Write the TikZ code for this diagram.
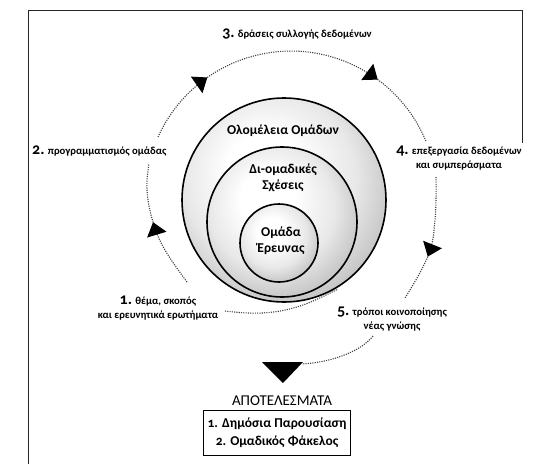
\documentclass[tikz,border=0pt]{standalone}
\usepackage{fontspec}
\setmainfont{Carlito}[Numbers=OldStyle]
\usetikzlibrary{arrows.meta,decorations.markings}
\pgfdeclareradialshading{discshade}{\pgfpoint{-6bp}{9bp}}{color(0bp)=(white); color(9bp)=(white); color(21bp)=(black!9); color(29bp)=(black!22); color(35bp)=(black!42); color(50bp)=(black!45)}
\newcommand\bignum[1]{{\fontsize{16}{14}\selectfont #1}}
\tikzset{
  disc/.style={circle, draw=black, line width=1.6pt, shading=discshade, inner sep=0pt},
  intext/.style={font=\bfseries\fontsize{13.5}{16}\selectfont, align=center, inner sep=1pt},
  lab/.style={font=\bfseries\fontsize{10.7}{14.5}\selectfont, align=center, inner sep=1pt},
  dotline/.style={draw=black!75, line width=1.1pt, dash pattern=on 1.1pt off 1.2pt},
  headmark/.style={postaction={decorate, decoration={markings, mark=at position #1 with {\arrow[black]{Triangle[width=20pt,length=13pt]}}}}}
}
\begin{document}
\begin{tikzpicture}[x=1pt, y=-1pt]
\useasboundingbox (0,0) rectangle (539,464);
\fill[white] (0,0) rectangle (539,464);
% frame
\draw[line width=1pt, black!85] (28,464) -- (28,10) -- (522,10) -- (522,143);
% nested circles
\node[disc, minimum size=204pt] (outer) at (284,200) {};
\node[disc, minimum size=150pt] (middle) at (282,222) {};
\node[disc, minimum size=78pt] (inner) at (279,243) {};
\node[intext] (t1) at (283,131) {Ολομέλεια Ομάδων};
\node[intext] (t2) at (283,178) {Δι-ομαδικές\\Σχέσεις};
\node[intext] (t3) at (281,241) {Ομάδα\\Έρευνας};
% labels
\node[lab] (l3) at (297,34) {\bignum{3.} δράσεις συλλογής δεδομένων};
\node[lab, anchor=west] (l2) at (31,151) {\bignum{2.} προγραμματισμός ομάδας};
\node[lab] (l4) at (459,158) {\bignum{4.} επεξεργασία δεδομένων\\και συμπεράσματα};
\node[lab] (l1) at (158,308) {\bignum{1.} θέμα, σκοπός\\και ερευνητικά ερωτήματα};
\node[lab] (l5) at (392,319) {\bignum{5.} τρόποι κοινοποίησης\\νέας γνώσης};
% cycle arcs
\coordinate (a2) at (158,137);
\draw[dotline, headmark=0.23, headmark=0.765] (a2) arc[start angle=155.7, end angle=22.2, radius=146pt];
\draw[dotline, headmark=0.63] plot[smooth, tension=0.7] coordinates {(436,177) (435,220) (428,256) (405,298)};
\draw[dotline, headmark=0.54] plot[smooth, tension=0.7] coordinates {(187,282) (165,250) (153,222) (147,190) (149,164)};
\draw[dotline] plot[smooth, tension=0.7] coordinates {(225,311) (262,313) (300,306) (338,289)};
% result arrow
\coordinate (tri) at (302,364);
\fill[black] (262,362) -- (303,362) -- (283,383) -- cycle;
\coordinate (l5out) at (373,336);
\draw[dotline] (l5out) .. controls (362,350) and (335,362) .. (tri);
\node[font=\fontsize{15}{17}\selectfont, inner sep=1pt] (res) at (282,401) {ΑΠΟΤΕΛΕΣΜΑΤΑ};
\node[draw, line width=1pt, align=center, font=\bfseries\fontsize{13.5}{18}\selectfont, minimum width=147pt, minimum height=45pt, inner sep=0pt] (box) at (277,432.5) {1. Δημόσια Παρουσίαση\\2. Ομαδικός Φάκελος};
\end{tikzpicture}
\end{document}
